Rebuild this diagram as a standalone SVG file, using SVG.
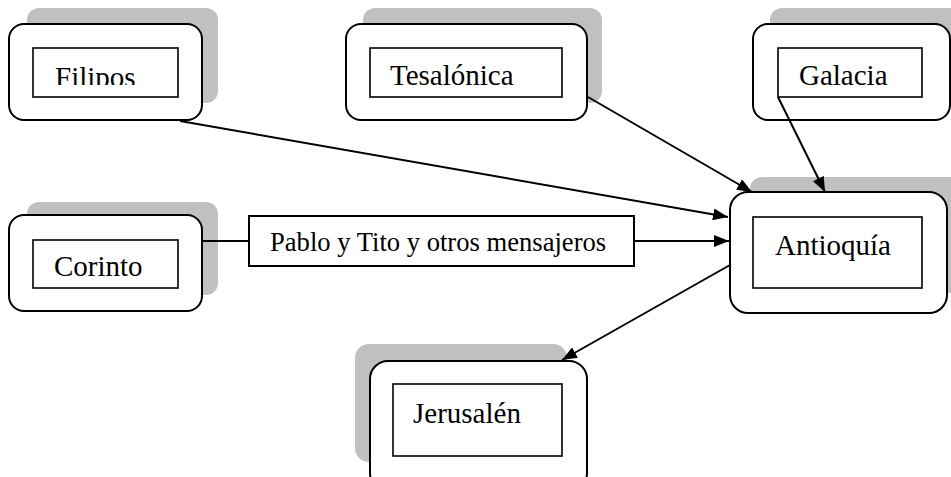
<svg xmlns="http://www.w3.org/2000/svg" width="951" height="477" viewBox="0 0 951 477">
<style>
.sh{fill:#c0c0c0;stroke:none}
.out{fill:#fff;stroke:#000;stroke-width:2}
.in{fill:#fff;stroke:#000;stroke-width:1.6}
.t{font-family:"Liberation Serif","Times New Roman",serif;font-size:29px;fill:#000}
.lt{font-family:"Liberation Serif","Times New Roman",serif;font-size:26.6px;fill:#000}
.c{stroke:#000;stroke-width:2;fill:none}
</style>
<defs>
<marker id="ah" viewBox="0 0 15 12" refX="15" refY="6" markerWidth="15" markerHeight="12" markerUnits="userSpaceOnUse" orient="auto">
<path d="M0,0 L15,6 L0,12 Z" fill="#000"/>
</marker>
<clipPath id="cf"><rect x="33" y="48" width="145" height="37"/></clipPath>
</defs>
<rect width="951" height="477" fill="#fff"/>
<g id="filipos">
<rect class="sh" x="27" y="8" width="191" height="95" rx="12"/>
<rect class="out" x="9" y="24" width="193" height="96" rx="15"/>
<rect class="in" x="33" y="48" width="145" height="49"/>
<text class="t" x="55" y="87" clip-path="url(#cf)">Filipos</text>
</g>
<g id="tesalonica">
<rect class="sh" x="363" y="8" width="239" height="95" rx="12"/>
<rect class="out" x="346" y="24" width="241" height="96" rx="15"/>
<rect class="in" x="370" y="48" width="192" height="49"/>
<text class="t" x="390" y="85">Tesalónica</text>
</g>
<g id="galacia">
<rect class="sh" x="770" y="8" width="200" height="95" rx="12"/>
<rect class="out" x="753" y="24" width="197" height="96" rx="15"/>
<rect class="in" x="778" y="48" width="144" height="49"/>
<text class="t" x="799" y="85">Galacia</text>
</g>
<g id="corinto">
<rect class="sh" x="27" y="202" width="191" height="93" rx="12"/>
<rect class="out" x="9" y="215" width="193" height="96" rx="15"/>
<rect class="in" x="33" y="240" width="145" height="48"/>
<text class="t" x="54" y="276">Corinto</text>
</g>
<g id="antioquia">
<rect class="sh" x="750" y="177" width="220" height="116" rx="12"/>
<rect class="out" x="730" y="192" width="217" height="121" rx="18"/>
<rect class="in" x="753" y="217" width="169" height="71"/>
<text class="t" x="775" y="255">Antioquía</text>
</g>
<g id="jerusalen">
<rect class="sh" x="355" y="344" width="212" height="118" rx="14"/>
<rect class="out" x="370" y="361" width="217" height="130" rx="18"/>
<rect class="in" x="393" y="384" width="169" height="72"/>
<text class="t" x="413" y="423">Jerusalén</text>
</g>
<g id="connectors">
<line class="c" x1="180" y1="121" x2="728" y2="217" marker-end="url(#ah)"/>
<line class="c" x1="588" y1="97" x2="752" y2="192" marker-end="url(#ah)"/>
<line class="c" x1="778" y1="97" x2="825" y2="192" marker-end="url(#ah)"/>
<line class="c" x1="202" y1="241" x2="250" y2="241"/>
<line class="c" x1="634" y1="241" x2="729" y2="241" marker-end="url(#ah)"/>
<line class="c" x1="730" y1="265" x2="562" y2="360" marker-end="url(#ah)"/>
<g id="label">
<rect x="249" y="216" width="385" height="50" fill="#fff" stroke="#000" stroke-width="2"/>
<text class="lt" x="270" y="251">Pablo y Tito y otros mensajeros</text>
</g>
</g>
</svg>
